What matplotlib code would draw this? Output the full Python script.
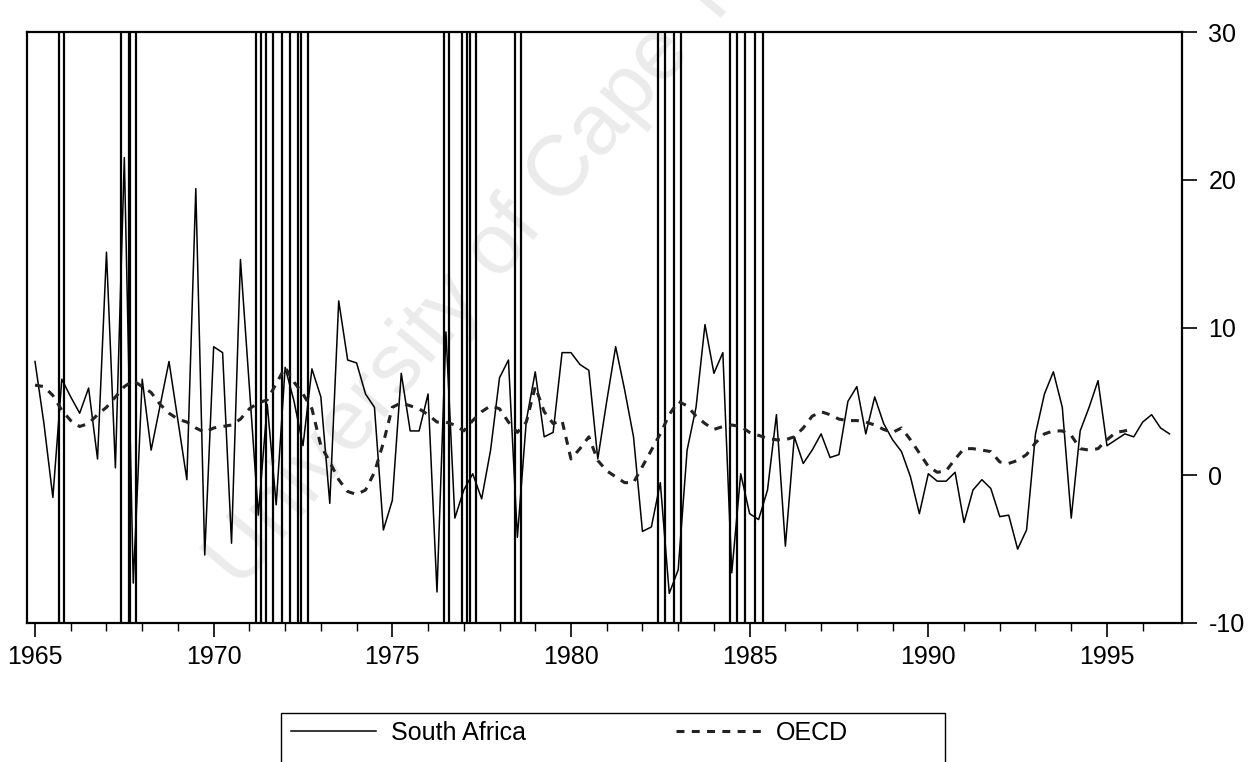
import numpy as np
import matplotlib
matplotlib.use("Agg")
import matplotlib.pyplot as plt
from matplotlib.patches import Rectangle

plt.rcParams['font.family'] = ['Liberation Sans', 'DejaVu Sans']
plt.rcParams['axes.unicode_minus'] = False

# quarterly data, 1965Q1 - 1996Q4
start_year = 1965
south_africa = [
    7.7, 3.5, -1.5, 6.5, 5.3, 4.2, 5.9, 1.1, 15.1, 0.5, 21.5, -7.3, 6.5, 1.7, 4.7, 7.7,
    3.7, -0.3, 19.4, -5.4, 8.7, 8.3, -4.6, 14.6, 6.0, -2.7, 4.8, -2.0, 7.3, 5.0, 2.0, 7.2,
    5.3, -1.9, 11.8, 7.8, 7.6, 5.5, 4.6, -3.7, -1.7, 6.9, 3.0, 3.0, 5.5, -7.9, 9.7, -2.9,
    -1.0, 0.1, -1.6, 1.7, 6.6, 7.8, -4.2, 3.7, 7.0, 2.6, 2.9, 8.3, 8.3, 7.5, 7.1, 1.1,
    5.0, 8.7, 5.8, 2.6, -3.8, -3.5, -0.5, -8.0, -6.4, 1.7, 4.6, 10.2, 6.9, 8.3, -6.6, 0.1,
    -2.6, -3.0, -1.0, 4.1, -4.8, 2.6, 0.8, 1.7, 2.8, 1.2, 1.4, 5.0, 6.0, 2.8, 5.3, 3.5,
    2.4, 1.6, -0.1, -2.6, 0.1, -0.4, -0.4, 0.2, -3.2, -1.0, -0.3, -0.9, -2.8, -2.7, -5.0, -3.7,
    2.8, 5.5, 7.0, 4.6, -2.9, 3.0, 4.6, 6.4, 2.0, 2.4, 2.8, 2.6, 3.6, 4.1, 3.2, 2.8,
]
oecd = [
    6.1, 6.0, 5.4, 4.4, 3.7, 3.3, 3.5, 4.1, 4.6, 5.3, 6.0, 6.4, 6.0, 5.6, 4.8, 4.2,
    3.8, 3.6, 3.2, 2.9, 3.2, 3.3, 3.4, 3.8, 4.5, 4.9, 5.1, 6.2, 7.3, 6.3, 5.5, 4.5,
    2.0, 0.9, -0.3, -1.1, -1.3, -1.0, 0.2, 2.2, 4.6, 4.9, 4.7, 4.5, 4.1, 3.6, 3.6, 3.4,
    3.0, 3.7, 4.3, 4.7, 4.5, 3.6, 2.9, 3.6, 6.0, 4.3, 3.5, 3.7, 1.1, 1.8, 2.6, 1.0,
    0.3, -0.1, -0.5, -0.5, 0.6, 1.7, 2.8, 4.1, 5.0, 4.7, 4.0, 3.5, 3.1, 3.3, 3.4, 3.3,
    2.9, 2.7, 2.5, 2.4, 2.4, 2.6, 3.2, 4.0, 4.3, 4.1, 3.8, 3.7, 3.7, 3.6, 3.4, 3.1,
    2.9, 3.2, 2.4, 1.5, 0.6, 0.2, 0.3, 1.1, 1.8, 1.8, 1.7, 1.6, 0.9, 0.8, 1.0, 1.4,
    2.2, 2.8, 3.0, 3.0, 2.7, 1.8, 1.7, 1.8, 2.4, 2.9, 3.0, 3.2,
]
# dates of the vertical marker lines
shock_dates = [
    1965.68, 1965.81, 1967.42, 1967.62, 1967.66, 1967.84,
    1971.19, 1971.33, 1971.47, 1971.66, 1971.92, 1972.14, 1972.35, 1972.45, 1972.63,
    1976.45, 1976.59, 1976.95, 1977.10, 1977.17, 1977.34,
    1978.44, 1978.60,
    1982.44, 1982.62, 1982.88, 1983.09,
    1984.44, 1984.65, 1984.88, 1985.16, 1985.37,
]
year_labels = [1965, 1970, 1975, 1980, 1985, 1990, 1995]
y_ticks = [-10, 0, 10, 20, 30]

x_sa = start_year + np.arange(len(south_africa)) * 0.25
x_oecd = start_year + np.arange(len(oecd)) * 0.25

fig = plt.figure(figsize=(12.6, 7.62), dpi=100)
fig.patch.set_facecolor('white')
ax = fig.add_axes([27 / 1260, 1 - 623 / 762, (1182 - 27) / 1260, (623 - 32) / 762])
ax.patch.set_alpha(0)

# watermark (runs off the top, as in the scan)
ax.text(240 / 1260, 1 - 590 / 762, 'University of Cape Town', transform=fig.transFigure,
        rotation=50, rotation_mode='anchor', ha='left', va='baseline',
        fontsize=62, color='#ebebeb', zorder=0.5, clip_on=False)

for d in shock_dates:
    ax.axvline(d, color='black', lw=1.6, zorder=1.5)

ax.plot(x_sa, south_africa, color='black', lw=1.1, label='South Africa', zorder=3)
ax.plot(x_oecd, oecd, color='#222222', lw=2.2, dashes=(2.6, 2.4), label='OECD', zorder=3)

ax.set_xlim(1964.776, 1997.1)
ax.set_ylim(-10, 30)

ax.set_xticks(year_labels)
ax.set_xticklabels([str(y) for y in year_labels])
ax.set_xticks(np.arange(1965, 1997), minor=True)
ax.tick_params(axis='x', which='major', direction='out', length=10, width=1.2,
               labelsize=18, pad=6)
ax.tick_params(axis='x', which='minor', direction='out', length=6, width=1.0)

ax.yaxis.tick_right()
ax.set_yticks(y_ticks)
ax.tick_params(axis='y', which='major', direction='out', length=11, width=1.2,
               labelsize=18, pad=8, left=False, right=True)

for s in ax.spines.values():
    s.set_linewidth(1.6)
    s.set_color('black')

# legend box, cut off at the bottom of the page
fig.add_artist(Rectangle((281 / 1260, -0.05), (945 - 281) / 1260, (1 - 713 / 762) + 0.05,
                         transform=fig.transFigure, fill=False, edgecolor='black', lw=1.0))
leg = ax.legend(loc='center left', bbox_to_anchor=(291 / 1260, 1 - 733 / 762),
                bbox_transform=fig.transFigure, ncol=2, frameon=False, fontsize=18,
                handlelength=3.4, handletextpad=0.6, columnspacing=6.0,
                borderpad=0, borderaxespad=0)

fig.savefig('out.png', dpi=100)
